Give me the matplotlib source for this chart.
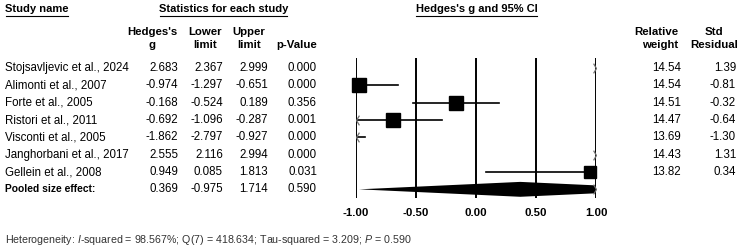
import numpy as np
import matplotlib.pyplot as plt
from matplotlib.path import Path
from matplotlib import font_manager
from matplotlib.transforms import blended_transform_factory

plt.rcParams['font.family'] = ['Liberation Sans', 'DejaVu Sans']

# data
studies = ["Stojsavljevic et al., 2024", "Alimonti et al., 2007", "Forte et al., 2005",
           "Ristori et al., 2011", "Visconti et al., 2005", "Janghorbani et al., 2017",
           "Gellein et al., 2008"]
hedges_g = [2.683, -0.974, -0.168, -0.692, -1.862, 2.555, 0.949]
lower = [2.367, -1.297, -0.524, -1.096, -2.797, 2.116, 0.085]
upper = [2.999, -0.651, 0.189, -0.287, -0.927, 2.994, 1.813]
p_values = [0.000, 0.000, 0.356, 0.001, 0.000, 0.000, 0.031]
rel_weight = [14.54, 14.54, 14.51, 14.47, 13.69, 14.43, 13.82]
std_resid = [1.39, -0.81, -0.32, -0.64, -1.30, 1.31, 0.34]
pooled_label = "Pooled size effect:"
pooled_g, pooled_lo, pooled_hi, pooled_p = 0.369, -0.975, 1.714, 0.590
ticks = [-1.0, -0.5, 0.0, 0.5, 1.0]
footnote = ("Heterogeneity: $\\mathit{I}$-squared = 98.567%; Q(7) = 418.634; "
            "Tau-squared = 3.209; $\\mathit{P}$ = 0.590")

W, H = 740, 250
fig = plt.figure(figsize=(W / 100, H / 100), dpi=100)


def fx(px):
    return px / W


def fy(py):
    return 1 - py / H


# forest panel
ax = fig.add_axes([fx(356), fy(198), 240 / W, 140 / H])
ax.set_xlim(-1, 1)
ax.set_ylim(7.5, -0.58)
ax.axis('off')
for t in ticks:
    ax.axvline(t, color='black', lw=1.4)

xmin, xmax = ax.get_xlim()
right_arrow = Path([(-0.6, 1), (0, 0), (-0.6, -1)])
left_arrow = Path([(0.6, 1), (0, 0), (0.6, -1)])
arrow_style = dict(ms=7, mfc='none', mec='#707070', mew=0.9, ls='none')

for i, (g, lo, hi, w) in enumerate(zip(hedges_g, lower, upper, rel_weight)):
    a, b = max(lo, xmin), min(hi, xmax)
    if a < b:
        ax.plot([a, b], [i, i], color='black', lw=1.2)
    if hi > xmax:
        ax.plot([xmax], [i], marker=right_arrow, **arrow_style)
    if lo < xmin:
        ax.plot([xmin], [i], marker=left_arrow, **arrow_style)
    if xmin <= g <= xmax:
        ax.plot([g], [i], marker='s', color='black', ms=9.6 * np.sqrt(w / max(rel_weight)),
                clip_on=False)

yp = len(studies)
h = 0.43
ax.fill([pooled_lo, pooled_g, pooled_hi, pooled_g], [yp, yp - h, yp, yp + h], color='black', lw=0)
if pooled_hi > xmax:
    ax.plot([xmax], [yp], marker=right_arrow, **arrow_style)

tick_tr = blended_transform_factory(ax.transData, fig.transFigure)
for t in ticks:
    ax.text(t, fy(213), f"{t:.2f}", transform=tick_tr, ha='center', va='center',
            fontsize=8.2, fontweight='bold', clip_on=False)

# table text
row_tr = blended_transform_factory(fig.transFigure, ax.transData)
fs = 8.3
for i, name in enumerate(studies):
    fig.text(fx(5), i, name, transform=row_tr, fontsize=fs, va='center')
    fig.text(fx(178), i, f"{hedges_g[i]:.3f}", transform=row_tr, fontsize=fs, va='center', ha='right')
    fig.text(fx(223), i, f"{lower[i]:.3f}", transform=row_tr, fontsize=fs, va='center', ha='right')
    fig.text(fx(268), i, f"{upper[i]:.3f}", transform=row_tr, fontsize=fs, va='center', ha='right')
    fig.text(fx(317), i, f"{p_values[i]:.3f}", transform=row_tr, fontsize=fs, va='center', ha='right')
    fig.text(fx(681), i, f"{rel_weight[i]:.2f}", transform=row_tr, fontsize=fs, va='center', ha='right')
    fig.text(fx(736), i, f"{std_resid[i]:.2f}", transform=row_tr, fontsize=fs, va='center', ha='right')

fig.text(fx(5), yp, pooled_label, transform=row_tr, fontsize=7.4, fontweight='bold', va='center')
fig.text(fx(178), yp, f"{pooled_g:.3f}", transform=row_tr, fontsize=fs, va='center', ha='right')
fig.text(fx(223), yp, f"{pooled_lo:.3f}", transform=row_tr, fontsize=fs, va='center', ha='right')
fig.text(fx(268), yp, f"{pooled_hi:.3f}", transform=row_tr, fontsize=fs, va='center', ha='right')
fig.text(fx(317), yp, f"{pooled_p:.3f}", transform=row_tr, fontsize=fs, va='center', ha='right')

# section headers with underline
for label, x0, x1 in [("Study name", 6, 68), ("Statistics for each study", 160, 287),
                      ("Hedges's g and 95% CI", 416, 537)]:
    fig.text(fx((x0 + x1) / 2), fy(8.5), label, fontsize=8, fontweight='bold', ha='center', va='center')
    fig.add_artist(plt.Line2D([fx(x0), fx(x1)], [fy(16), fy(16)], color='black', lw=0.8))

# column headers
col_heads = [("Hedges's", "g", 152, 'center'), ("Lower", "limit", 205, 'center'),
             ("Upper", "limit", 249, 'center'), ("", "p-Value", 297, 'center'),
             ("Relative", "weight", 678, 'right'), ("Std", "Residual", 714, 'center')]
for l1, l2, x, ha in col_heads:
    fig.text(fx(x), fy(32), l1, fontsize=8.2, fontweight='bold', ha=ha, va='center')
    fig.text(fx(x), fy(45), l2, fontsize=8.2, fontweight='bold', ha=ha, va='center')

# footnote
names = {f.name for f in font_manager.fontManager.ttflist}
narrow = 'Liberation Sans Narrow' if 'Liberation Sans Narrow' in names else 'Liberation Sans'
plt.rcParams['mathtext.fontset'] = 'custom'
plt.rcParams['mathtext.rm'] = narrow
plt.rcParams['mathtext.it'] = narrow + ':italic'
fig.text(fx(5), fy(240), footnote, fontsize=9.0 if narrow != 'Liberation Sans' else 7.7,
         family=[narrow, 'DejaVu Sans'], color='#333333', va='center')

fig.savefig('out.png', dpi=100, facecolor='white')
